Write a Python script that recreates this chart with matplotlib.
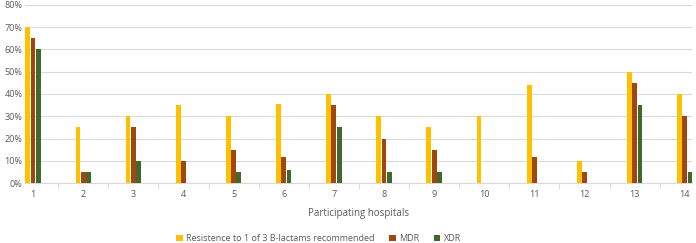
import numpy as np
import matplotlib
matplotlib.use("Agg")
import matplotlib.pyplot as plt

hospitals = [str(i) for i in range(1, 15)]
resist_blactam = [70, 25, 30, 35, 30, 35.5, 40, 30, 25, 30, 44, 10, 50, 40]
mdr = [65, 5, 25, 10, 15, 12, 35, 20, 15, 0, 12, 5, 45, 30]
xdr = [60, 5, 10, 0, 5, 6, 25, 5, 5, 0, 0, 0, 35, 5]
series_names = ["Resistence to 1 of 3 B-lactams recommended", "MDR", "XDR"]
colors = ["#FFC000", "#9E480E", "#43682B"]

plt.rcParams["font.family"] = ["Open Sans", "DejaVu Sans"]

fig = plt.figure(figsize=(6.96, 2.43), dpi=100)
ax = fig.add_axes([0.036, 0.2457, 0.958, 0.735])

x = np.arange(1, len(hospitals) + 1)
w = 0.105
for k, (vals, name, c) in enumerate(zip([resist_blactam, mdr, xdr], series_names, colors)):
    ax.bar(x + (k - 1) * w, vals, width=w - 0.01, color=c, label=name, zorder=3)

ax.set_xlim(0.84, 14.14)
ax.set_ylim(0, 80)
ax.set_yticks(range(0, 81, 10))
ax.set_yticklabels([f"{v}%" for v in range(0, 81, 10)])
ax.set_xticks(x)
ax.set_xticklabels(hospitals)
ax.set_xticks(np.arange(1.5, 14.5, 1), minor=True)

ax.grid(axis="y", color="#D9D9D9", linewidth=0.8, zorder=0)
for s in ["top", "right", "left"]:
    ax.spines[s].set_visible(False)
ax.spines["bottom"].set_color("#D9D9D9")
ax.tick_params(axis="y", length=0, labelsize=6.5, labelcolor="#595959", pad=2)
ax.tick_params(axis="x", which="major", length=0, labelsize=6.5, labelcolor="#595959", pad=5)
ax.tick_params(axis="x", which="minor", length=4, color="#D9D9D9")

ax.set_xlabel("Participating hospitals", fontsize=7, color="#595959", labelpad=6)

fig.legend(loc="lower center", bbox_to_anchor=(0.458, -0.035), ncol=3, frameon=False,
           fontsize=6.5, labelcolor="#595959", handlelength=0.7, handleheight=0.7,
           handletextpad=0.4, columnspacing=1.6)

fig.savefig("out.png", dpi=100)
